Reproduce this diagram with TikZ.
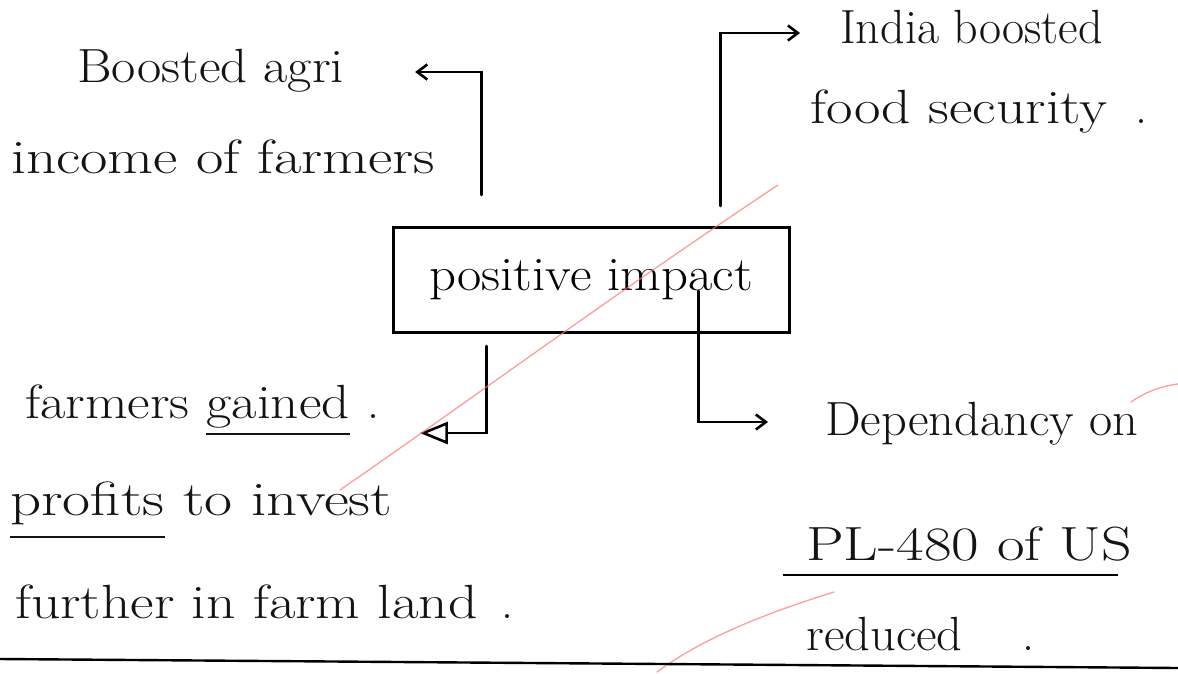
\documentclass[tikz,border=0pt]{standalone}
\usetikzlibrary{arrows.meta,calc}
% underline drawn below the baseline, as with a pen stroke
\newcommand{\hwunder}[2]{\setbox0\hbox{#2}\rlap{\rule[-#1]{\wd0}{2.2pt}}#2}
% widen a line of text horizontally
\newcommand{\hw}[2]{\scalebox{#1}[1]{#2}}
\tikzset{
  txt/.style={anchor=base west, inner sep=0pt, font=\fontsize{48}{56}\selectfont, text=black!92},
  link/.style={line width=2.8pt, line cap=round, -{Straight Barb[length=10pt,width=15pt,line width=2.6pt]}},
  hollowlink/.style={line width=2.8pt, line cap=round, -{Triangle[open,length=28pt,width=22pt,line width=2.6pt]}},
  redmark/.style={draw=red!55!white, line width=1.3pt, opacity=0.7, line cap=round},
  boxstyle/.style={draw, line width=3pt, minimum width=396pt, minimum height=105pt,
    inner sep=0pt, font=\fontsize{48}{56}\selectfont}
}
\begin{document}
\begin{tikzpicture}[x=1pt,y=-1pt]
  \useasboundingbox (0,0) rectangle (1178,673);
  \fill[white] (0,0) rectangle (1178,673);

  % central box
  \node[boxstyle] (box) at (591,280) {\hw{1.1}{positive impact}};

  % top left
  \node[txt] (agri) at (77,82) {\hw{1.1}{Boosted agri}};
  \node[txt] (inc) at (11,173) {\hw{1.24}{income of farmers}};

  % top right
  \node[txt] (india) at (840,43) {India boosted};
  \node[txt] (food) at (810,123) {\hw{1.2}{food security}\hspace{28pt}.};

  % bottom left
  \node[txt] (fg) at (25,418) {\hw{1.15}{farmers \hwunder{17pt}{gained}}\hspace{18pt}.};
  \node[txt] (prof) at (10,515) {\hw{1.27}{\hwunder{23pt}{profits} to invest}};
  \node[txt] (furth) at (15,618) {\hw{1.2}{further in farm land}\hspace{24pt}.};

  % bottom right
  \node[txt] (dep) at (825,435) {\hw{1.05}{Dependancy on}};
  \node[txt] (pl) at (806,560) {\hw{1.25}{PL-480 of US}};
  \node[txt] (red) at (806,650) {\hw{1.05}{reduced}\hspace{60pt}.};
  \draw[line width=2.2pt] ($(pl.base west)+(-23,15)$) -- ($(pl.base east)+(-14,15)$);

  % connectors
  \draw[link] ($(box.north west)+(90,-31)$) |- ($(agri.base east)+(71,-10)$);
  \draw[link] ($(box.north west)+(329,-20)$) |- ($(india.base west)+(-40,-10)$);
  \draw[hollowlink] ($(box.south west)+(95,12)$) |- ($(fg.base east)+(40,15)$);
  \draw[link] ($(box.south west)+(307,-43)$) |- ($(dep.base west)+(-57,-13)$);

  % marker strokes
  \draw[redmark] (778,185) .. controls (620,290) and (470,400) .. (340,490);
  \draw[redmark] (834,592) .. controls (760,615) and (700,640) .. (657,672);
  \draw[redmark] (1131,402) .. controls (1145,392) and (1162,386) .. (1178,384);

  % page edge
  \draw[line width=2.4pt] (0,659) .. controls (400,662) and (800,665) .. (1178,668);
\end{tikzpicture}
\end{document}
